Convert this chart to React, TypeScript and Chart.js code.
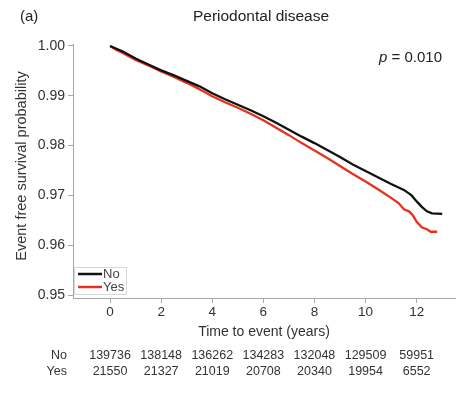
import React, { useEffect, useRef } from "react";
import { Chart, registerables } from "chart.js";

Chart.register(...registerables);

const noTimes = [0, 0.5, 1.0, 1.5, 2.0, 2.5, 3.0, 3.5, 4.0, 4.5, 5.0, 5.5, 6.0, 6.5, 7.0, 7.5, 8.0, 8.5, 9.0, 9.5, 10.0, 10.5, 11.0, 11.5, 11.8, 12.0, 12.2, 12.4, 12.6, 13.0];
const noSurv = [1.0, 0.9989, 0.9975, 0.9963, 0.9951, 0.9941, 0.993, 0.9919, 0.9905, 0.9893, 0.9882, 0.9871, 0.9859, 0.9846, 0.9832, 0.9818, 0.9805, 0.9791, 0.9777, 0.9762, 0.9749, 0.9736, 0.9723, 0.9711, 0.97, 0.9688, 0.9677, 0.9668, 0.9664, 0.9663];

const yesTimes = [0, 0.25, 0.5, 1.0, 1.5, 2.0, 2.5, 3.0, 3.5, 4.0, 4.5, 5.0, 5.5, 6.0, 6.5, 7.0, 7.5, 8.0, 8.5, 9.0, 9.5, 10.0, 10.5, 11.0, 11.3, 11.5, 11.7, 11.85, 12.0, 12.2, 12.4, 12.55, 12.8];
const yesSurv = [1.0, 0.9992, 0.9986, 0.9972, 0.9961, 0.9949, 0.9938, 0.9926, 0.9913, 0.9899, 0.9887, 0.9876, 0.9864, 0.9851, 0.9836, 0.9821, 0.9805, 0.979, 0.9775, 0.9759, 0.9743, 0.9728, 0.9712, 0.9695, 0.9684, 0.9672, 0.9668, 0.966, 0.9647, 0.9636, 0.9632, 0.9627, 0.9627];

const xTickValues = [0, 2, 4, 6, 8, 10, 12];
const yTickValues = [0.95, 0.96, 0.97, 0.98, 0.99, 1.0];
const riskNo = ["139736", "138148", "136262", "134283", "132048", "129509", "59951"];
const riskYes = ["21550", "21327", "21019", "20708", "20340", "19954", "6552"];
const seriesNames = ["No", "Yes"];
const seriesColors = ["#111111", "#e5321f"];

const FONT = "'Liberation Sans', Arial, Helvetica, sans-serif";

export default function App() {
  const ref = useRef<HTMLCanvasElement | null>(null);

  useEffect(() => {
    const canvas = ref.current;
    if (!canvas) return;

    const overlay = {
      id: "overlay",
      afterDraw(chart: any) {
        const ctx = chart.ctx as CanvasRenderingContext2D;
        const xs = chart.scales.x;
        const ca = chart.chartArea;
        ctx.save();
        ctx.textBaseline = "middle";
        ctx.fillStyle = "#222";

        // panel label and title
        ctx.font = `15px ${FONT}`;
        ctx.textAlign = "left";
        ctx.fillText("(a)", 20, 17);
        ctx.font = `15.5px ${FONT}`;
        ctx.textAlign = "center";
        ctx.fillText("Periodontal disease", 261, 17);

        // p value
        ctx.font = `15px ${FONT}`;
        const rest = " = 0.010";
        const restW = ctx.measureText(rest).width;
        ctx.textAlign = "right";
        ctx.fillText(rest, 442, 58);
        ctx.font = `italic 15px ${FONT}`;
        ctx.fillText("p", 442 - restW, 58);

        // y title
        ctx.save();
        ctx.translate(22, 166);
        ctx.rotate(-Math.PI / 2);
        ctx.textAlign = "center";
        ctx.font = `14.5px ${FONT}`;
        ctx.fillStyle = "#333";
        ctx.fillText("Event free survival probability", 0, 0);
        ctx.restore();

        // x title
        ctx.font = `14px ${FONT}`;
        ctx.fillStyle = "#333";
        ctx.textAlign = "center";
        ctx.fillText("Time to event (years)", (ca.left + ca.right) / 2, 332);

        // risk table
        ctx.font = `12.5px ${FONT}`;
        ctx.textAlign = "right";
        ctx.fillText(seriesNames[0], 67, 356);
        ctx.fillText(seriesNames[1], 67, 372);
        ctx.textAlign = "center";
        xTickValues.forEach((v, i) => {
          const px = xs.getPixelForValue(v);
          ctx.fillText(riskNo[i], px, 356);
          ctx.fillText(riskYes[i], px, 372);
        });

        // legend
        const lx = ca.left + 1;
        const ly = ca.bottom - 31;
        ctx.fillStyle = "#ffffff";
        ctx.fillRect(lx, ly, 52, 27);
        ctx.strokeStyle = "#d8d8d8";
        ctx.lineWidth = 1;
        ctx.strokeRect(lx + 0.5, ly + 0.5, 52, 27);
        ctx.font = `13px ${FONT}`;
        ctx.textAlign = "left";
        seriesNames.forEach((name, i) => {
          const yy = ly + 7 + i * 13;
          ctx.strokeStyle = seriesColors[i];
          ctx.lineWidth = 2.5;
          ctx.beginPath();
          ctx.moveTo(lx + 4, yy);
          ctx.lineTo(lx + 28, yy);
          ctx.stroke();
          ctx.fillStyle = "#444";
          ctx.fillText(name, lx + 29, yy + 0.5);
        });
        ctx.restore();
      },
    };

    const chart = new Chart(canvas, {
      type: "line",
      data: {
        datasets: [
          {
            label: seriesNames[0],
            data: noTimes.map((t, i) => ({ x: t, y: noSurv[i] })),
            borderColor: seriesColors[0],
            borderWidth: 2.3,
            pointRadius: 0,
            tension: 0,
            fill: false,
          },
          {
            label: seriesNames[1],
            data: yesTimes.map((t, i) => ({ x: t, y: yesSurv[i] })),
            borderColor: seriesColors[1],
            borderWidth: 2.3,
            pointRadius: 0,
            tension: 0,
            fill: false,
          },
        ],
      },
      options: {
        animation: false,
        responsive: false,
        maintainAspectRatio: false,
        layout: { padding: { top: 44, right: 16, left: 0, bottom: 0 } },
        plugins: {
          legend: { display: false },
          title: { display: false },
          tooltip: { enabled: false },
        },
        scales: {
          x: {
            type: "linear",
            min: -1.45,
            max: 13.5,
            afterBuildTicks: (s: any) => {
              s.ticks = xTickValues.map((v) => ({ value: v }));
            },
            afterFit: (s: any) => {
              s.height = 97;
            },
            ticks: {
              font: { family: FONT, size: 13.5 },
              color: "#333",
              padding: 1,
              maxRotation: 0,
              callback: (v: any) => String(v),
            },
            grid: { drawOnChartArea: false, drawTicks: true, tickLength: 5, color: "#a8a8a8", lineWidth: 1 },
            border: { display: true, color: "#a8a8a8", width: 1 },
          },
          y: {
            type: "linear",
            min: 0.9494,
            max: 1.0004,
            afterBuildTicks: (s: any) => {
              s.ticks = yTickValues.map((v) => ({ value: v }));
            },
            afterFit: (s: any) => {
              s.width = 73;
            },
            ticks: {
              font: { family: FONT, size: 14 },
              color: "#333",
              padding: 3,
              callback: (v: any) => Number(v).toFixed(2),
            },
            grid: { drawOnChartArea: false, drawTicks: true, tickLength: 5, color: "#a8a8a8", lineWidth: 1 },
            border: { display: true, color: "#a8a8a8", width: 1 },
          },
        },
      },
      plugins: [overlay],
    });

    return () => chart.destroy();
  }, []);

  return (
    <div style={{ position: "fixed", left: 0, top: 0, width: 471, height: 395, background: "#fff" }}>
      <canvas ref={ref} width={471} height={395} style={{ width: 471, height: 395, display: "block" }} />
    </div>
  );
}
